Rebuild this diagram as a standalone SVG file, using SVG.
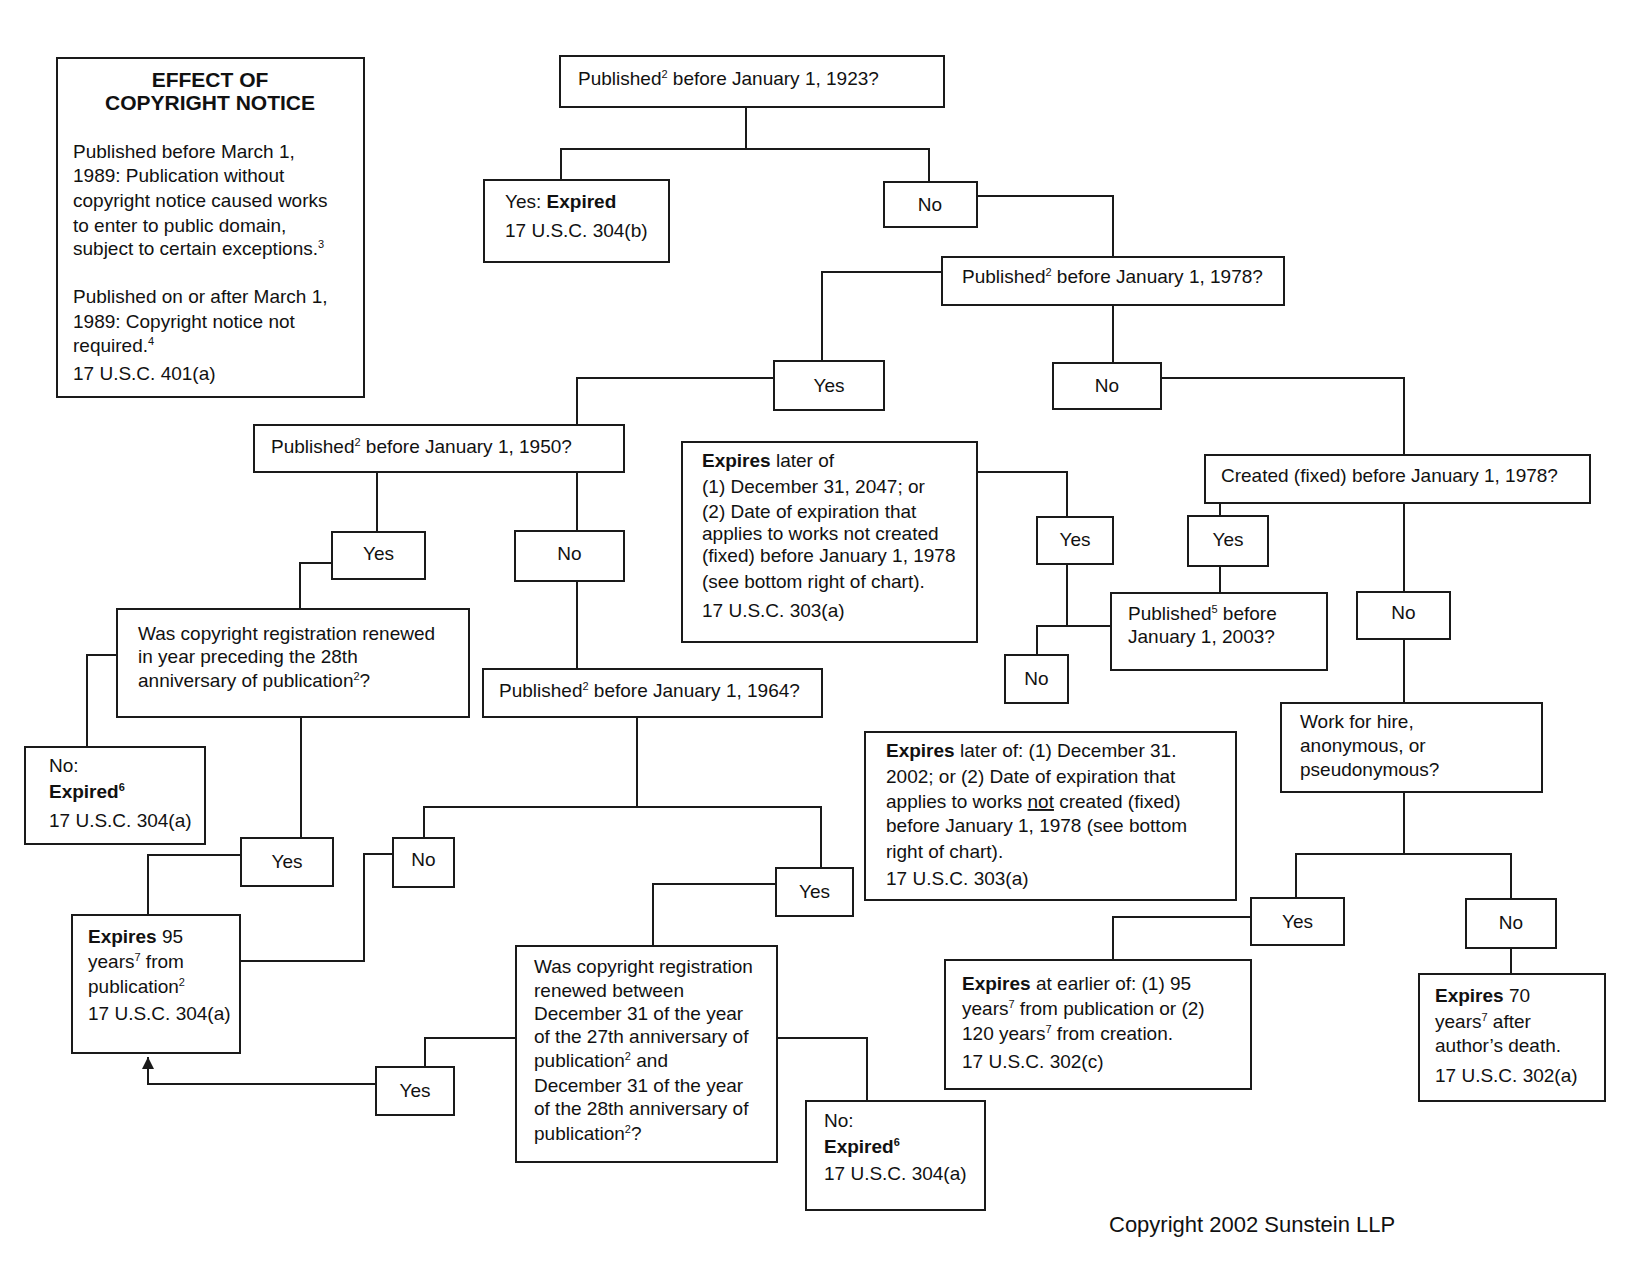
<svg xmlns="http://www.w3.org/2000/svg" width="1629" height="1270" viewBox="0 0 1629 1270">
<style>
  .box{fill:#fff;stroke:#1a1a1a;stroke-width:2}
  .ln{fill:none;stroke:#1a1a1a;stroke-width:2}
  text{font-family:"Liberation Sans",Arial,sans-serif;font-size:19px;fill:#111}
  .c{text-anchor:middle}
  .b{font-weight:bold}
  .sup{font-size:11px}
  .title{font-size:21px;font-weight:bold;text-anchor:middle}
  .foot{font-size:22px}
</style>
<defs>
  <marker id="arr" markerUnits="userSpaceOnUse" viewBox="0 0 12 12" refX="12" refY="6" markerWidth="12" markerHeight="12" orient="auto">
    <path d="M0,0 L12,6 L0,12 z" fill="#1a1a1a"/>
  </marker>
</defs>
<rect width="1629" height="1270" fill="#fff"/>

<g id="connectors">
  <path class="ln" d="M746,107 V149 M561,180 V149 H929 V182"/>
  <path class="ln" d="M977,196 H1113 V257"/>
  <path class="ln" d="M942,272 H822 V361"/>
  <path class="ln" d="M1113,305 V363"/>
  <path class="ln" d="M1161,378 H1404 V455"/>
  <path class="ln" d="M774,378 H577 V425"/>
  <path class="ln" d="M377,472 V532 M577,472 V531"/>
  <path class="ln" d="M332,563 H300 V609"/>
  <path class="ln" d="M117,655 H87 V747"/>
  <path class="ln" d="M301,717 V838"/>
  <path class="ln" d="M577,581 V669"/>
  <path class="ln" d="M637,717 V807 M424,838 V807 H821 V868"/>
  <path class="ln" d="M241,855 H148 V915"/>
  <path class="ln" d="M393,854 H364 V961 H240"/>
  <path class="ln" d="M776,884 H653 V946"/>
  <path class="ln" d="M516,1038 H425 V1067"/>
  <path class="ln" d="M376,1084 H148 V1057" marker-end="url(#arr)"/>
  <path class="ln" d="M777,1038 H867 V1101"/>
  <path class="ln" d="M977,472 H1067 V517"/>
  <path class="ln" d="M1067,564 V626 M1037,655 V626 H1111"/>
  <path class="ln" d="M1220,503 V516 M1220,566 V593"/>
  <path class="ln" d="M1404,503 V592 M1404,639 V703"/>
  <path class="ln" d="M1404,792 V854 M1296,898 V854 H1511 V899"/>
  <path class="ln" d="M1251,917 H1113 V960"/>
  <path class="ln" d="M1511,948 V974"/>
</g>

<g id="effect-notice">
  <rect class="box" x="57" y="58" width="307" height="339"/>
  <text class="title" x="210" y="87">EFFECT OF</text>
  <text class="title" x="210" y="110">COPYRIGHT NOTICE</text>
  <text x="73" y="158">Published before March 1,</text>
  <text x="73" y="182">1989: Publication without</text>
  <text x="73" y="207">copyright notice caused works</text>
  <text x="73" y="232">to enter to public domain,</text>
  <text x="73" y="255">subject to certain exceptions.<tspan class="sup" dy="-7">3</tspan></text>
  <text x="73" y="303">Published on or after March 1,</text>
  <text x="73" y="328">1989: Copyright notice not</text>
  <text x="73" y="352">required.<tspan class="sup" dy="-7">4</tspan></text>
  <text x="73" y="380">17 U.S.C. 401(a)</text>
</g>

<g id="q1923">
  <rect class="box" x="560" y="56" width="384" height="51"/>
  <text x="578" y="85">Published<tspan class="sup" dy="-7">2</tspan><tspan dy="7"> before January 1, 1923?</tspan></text>
</g>

<g id="yes-expired">
  <rect class="box" x="484" y="180" width="185" height="82"/>
  <text x="505" y="208">Yes: <tspan class="b">Expired</tspan></text>
  <text x="505" y="237">17 U.S.C. 304(b)</text>
</g>

<g id="no1923">
  <rect class="box" x="884" y="182" width="93" height="45"/>
  <text class="c" x="930" y="211">No</text>
</g>

<g id="q1978">
  <rect class="box" x="942" y="257" width="342" height="48"/>
  <text x="962" y="283">Published<tspan class="sup" dy="-7">2</tspan><tspan dy="7"> before January 1, 1978?</tspan></text>
</g>

<g id="yes1978">
  <rect class="box" x="774" y="361" width="110" height="49"/>
  <text class="c" x="829" y="392">Yes</text>
</g>

<g id="no1978">
  <rect class="box" x="1053" y="363" width="108" height="46"/>
  <text class="c" x="1107" y="392">No</text>
</g>

<g id="q1950">
  <rect class="box" x="254" y="425" width="370" height="47"/>
  <text x="271" y="453">Published<tspan class="sup" dy="-7">2</tspan><tspan dy="7"> before January 1, 1950?</tspan></text>
</g>

<g id="yes1950">
  <rect class="box" x="332" y="532" width="93" height="47"/>
  <text class="c" x="378.5" y="560">Yes</text>
</g>

<g id="no1950">
  <rect class="box" x="515" y="531" width="109" height="50"/>
  <text class="c" x="569.5" y="560">No</text>
</g>

<g id="q-renewed28">
  <rect class="box" x="117" y="609" width="352" height="108"/>
  <text x="138" y="640">Was copyright registration renewed</text>
  <text x="138" y="663">in year preceding the 28th</text>
  <text x="138" y="687">anniversary of publication<tspan class="sup" dy="-7">2</tspan><tspan dy="7">?</tspan></text>
</g>

<g id="no-expired-left">
  <rect class="box" x="25" y="747" width="180" height="97"/>
  <text x="49" y="772">No:</text>
  <text x="49" y="798"><tspan class="b">Expired</tspan><tspan class="sup b" dy="-7">6</tspan></text>
  <text x="49" y="827">17 U.S.C. 304(a)</text>
</g>

<g id="q1964">
  <rect class="box" x="483" y="669" width="339" height="48"/>
  <text x="499" y="697">Published<tspan class="sup" dy="-7">2</tspan><tspan dy="7"> before January 1, 1964?</tspan></text>
</g>

<g id="expires2047">
  <rect class="box" x="682" y="442" width="295" height="200"/>
  <text x="702" y="467"><tspan class="b">Expires</tspan> later of</text>
  <text x="702" y="493">(1) December 31, 2047; or</text>
  <text x="702" y="518">(2) Date of expiration that</text>
  <text x="702" y="540">applies to works not created</text>
  <text x="702" y="562">(fixed) before January 1, 1978</text>
  <text x="702" y="588">(see bottom right of chart).</text>
  <text x="702" y="617">17 U.S.C. 303(a)</text>
</g>

<g id="yes-mid">
  <rect class="box" x="1037" y="517" width="76" height="47"/>
  <text class="c" x="1075" y="546">Yes</text>
</g>

<g id="no-small">
  <rect class="box" x="1005" y="655" width="63" height="48"/>
  <text class="c" x="1036.5" y="685">No</text>
</g>

<g id="q2003">
  <rect class="box" x="1111" y="593" width="216" height="77"/>
  <text x="1128" y="620">Published<tspan class="sup" dy="-7">5</tspan><tspan dy="7"> before</tspan></text>
  <text x="1128" y="643">January 1, 2003?</text>
</g>

<g id="q-created">
  <rect class="box" x="1205" y="455" width="385" height="48"/>
  <text x="1221" y="482">Created (fixed) before January 1, 1978?</text>
</g>

<g id="yes-created">
  <rect class="box" x="1188" y="516" width="80" height="50"/>
  <text class="c" x="1228" y="546">Yes</text>
</g>

<g id="no-created">
  <rect class="box" x="1357" y="592" width="93" height="47"/>
  <text class="c" x="1403.5" y="619">No</text>
</g>

<g id="q-workforhire">
  <rect class="box" x="1281" y="703" width="261" height="89"/>
  <text x="1300" y="728">Work for hire,</text>
  <text x="1300" y="752">anonymous, or</text>
  <text x="1300" y="776">pseudonymous?</text>
</g>

<g id="expires2002">
  <rect class="box" x="865" y="732" width="371" height="168"/>
  <text x="886" y="757"><tspan class="b">Expires</tspan> later of: (1) December 31.</text>
  <text x="886" y="783">2002; or (2) Date of expiration that</text>
  <text x="886" y="808">applies to works <tspan text-decoration="underline">not</tspan> created (fixed)</text>
  <text x="886" y="832">before January 1, 1978 (see bottom</text>
  <text x="886" y="858">right of chart).</text>
  <text x="886" y="885">17 U.S.C. 303(a)</text>
</g>

<g id="yes-work">
  <rect class="box" x="1251" y="898" width="93" height="47"/>
  <text class="c" x="1297.5" y="928">Yes</text>
</g>

<g id="no-work">
  <rect class="box" x="1466" y="899" width="90" height="49"/>
  <text class="c" x="1511" y="929">No</text>
</g>

<g id="expires302c">
  <rect class="box" x="945" y="960" width="306" height="129"/>
  <text x="962" y="990"><tspan class="b">Expires</tspan> at earlier of: (1) 95</text>
  <text x="962" y="1015">years<tspan class="sup" dy="-7">7</tspan><tspan dy="7"> from publication or (2)</tspan></text>
  <text x="962" y="1040">120 years<tspan class="sup" dy="-7">7</tspan><tspan dy="7"> from creation.</tspan></text>
  <text x="962" y="1068">17 U.S.C. 302(c)</text>
</g>

<g id="expires302a">
  <rect class="box" x="1419" y="974" width="186" height="127"/>
  <text x="1435" y="1002"><tspan class="b">Expires</tspan> 70</text>
  <text x="1435" y="1028">years<tspan class="sup" dy="-7">7</tspan><tspan dy="7"> after</tspan></text>
  <text x="1435" y="1052">author’s death.</text>
  <text x="1435" y="1082">17 U.S.C. 302(a)</text>
</g>

<g id="yes-renewed28">
  <rect class="box" x="241" y="838" width="92" height="48"/>
  <text class="c" x="287" y="868">Yes</text>
</g>

<g id="no1964">
  <rect class="box" x="393" y="838" width="61" height="49"/>
  <text class="c" x="423.5" y="866">No</text>
</g>

<g id="expires95">
  <rect class="box" x="72" y="915" width="168" height="138"/>
  <text x="88" y="943"><tspan class="b">Expires</tspan> 95</text>
  <text x="88" y="968">years<tspan class="sup" dy="-7">7</tspan><tspan dy="7"> from</tspan></text>
  <text x="88" y="993">publication<tspan class="sup" dy="-7">2</tspan></text>
  <text x="88" y="1020">17 U.S.C. 304(a)</text>
</g>

<g id="yes1964">
  <rect class="box" x="776" y="868" width="77" height="48"/>
  <text class="c" x="814.5" y="898">Yes</text>
</g>

<g id="q-renewed-between">
  <rect class="box" x="516" y="946" width="261" height="216"/>
  <text x="534" y="973">Was copyright registration</text>
  <text x="534" y="997">renewed between</text>
  <text x="534" y="1020">December 31 of the year</text>
  <text x="534" y="1043">of the 27th anniversary of</text>
  <text x="534" y="1067">publication<tspan class="sup" dy="-7">2</tspan><tspan dy="7"> and</tspan></text>
  <text x="534" y="1092">December 31 of the year</text>
  <text x="534" y="1115">of the 28th anniversary of</text>
  <text x="534" y="1140">publication<tspan class="sup" dy="-7">2</tspan><tspan dy="7">?</tspan></text>
</g>

<g id="yes-between">
  <rect class="box" x="376" y="1067" width="78" height="48"/>
  <text class="c" x="415" y="1097">Yes</text>
</g>

<g id="no-expired-bottom">
  <rect class="box" x="806" y="1101" width="179" height="109"/>
  <text x="824" y="1127">No:</text>
  <text x="824" y="1153"><tspan class="b">Expired</tspan><tspan class="sup b" dy="-7">6</tspan></text>
  <text x="824" y="1180">17 U.S.C. 304(a)</text>
</g>

<text class="foot" x="1109" y="1232">Copyright 2002 Sunstein LLP</text>
</svg>
